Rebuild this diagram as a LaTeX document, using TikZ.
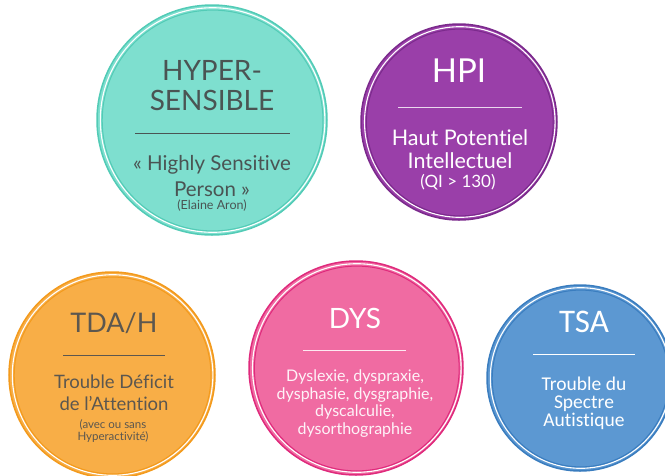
\documentclass[tikz,border=0pt]{standalone}
\usepackage{fontspec}
\setmainfont{Lato}[Ligatures=NoCommon]
\newfontfamily\calib{Carlito}[Ligatures=NoCommon]
\usetikzlibrary{calc}
\definecolor{tealF}{HTML}{7EDFCF}
\definecolor{tealR}{HTML}{52CBB6}
\definecolor{purpF}{HTML}{9A3FA9}
\definecolor{purpR}{HTML}{7B2A8C}
\definecolor{orgF}{HTML}{F8AE47}
\definecolor{orgR}{HTML}{F39A1C}
\definecolor{pinkF}{HTML}{F06BA2}
\definecolor{pinkR}{HTML}{DF2A7C}
\definecolor{bluF}{HTML}{5C98D2}
\definecolor{bluR}{HTML}{3A7DBF}
\definecolor{darktxt}{HTML}{4A5453}
\definecolor{orgtxt}{HTML}{5C574F}
\tikzset{
  disc/.style={circle, inner sep=0pt, minimum size=#1},
  lbl/.style={anchor=base, inner sep=0pt, align=center},
}
\newcommand\rimring[4]{% center, radius, rim colour, offset
  \draw[#3, line width=1.5pt] (#1) circle[radius=#2];
  \draw[white, line width=1.1pt] ($(#1)+(#4,0)$) circle[radius=#2-2.7];
  \draw[#3, line width=1pt] ($(#1)+(#4,0.5)$) circle[radius=#2-4.6];
}
\begin{document}
\begin{tikzpicture}[x=1pt,y=-1pt]
\useasboundingbox (0,0) rectangle (665,475);
% circles
\node[disc=230pt, fill=tealF] (c1) at (212,120) {};
\node[disc=196pt, fill=purpF] (c2) at (459,122) {};
\node[disc=206pt, fill=orgF] (c3) at (112,375) {};
\node[disc=214pt, fill=pinkF] (c4) at (356,368) {};
\node[disc=186pt, fill=bluF] (c5) at (580,378) {};
\rimring{c1.center}{115}{tealR}{0.6}
\rimring{c2.center}{98}{purpR}{0.8}
\rimring{c3.center}{103}{orgR}{0.6}
\rimring{c4.center}{107}{pinkR}{0.8}
\rimring{c5.center}{93}{bluR}{0.6}
% circle 1
\node[lbl, text=darktxt, font=\fontsize{28}{30}\selectfont] (t1a) at (212,80) {HYPER-};
\node[lbl, text=darktxt, font=\fontsize{28}{30}\selectfont] (t1b) at (212,110) {SENSIBLE};
\coordinate (l1a) at (135,133); \coordinate (l1b) at (290,133);
\draw[darktxt, line width=0.5pt] (l1a) -- (l1b);
\node[lbl, text=darktxt, font=\fontsize{20.5}{22}\selectfont] (s1a) at (212,170) {« Highly Sensitive};
\node[lbl, text=darktxt, font=\fontsize{20.5}{22}\selectfont] (s1b) at (212,196) {Person »};
\node[lbl, text=darktxt, font=\fontsize{12.5}{13}\selectfont] (s1c) at (212,209) {(Elaine Aron)};
% circle 2
\node[lbl, text=white, font=\fontsize{33}{33}\selectfont] (t2) at (459,82) {HPI};
\coordinate (l2a) at (398,107); \coordinate (l2b) at (522,107);
\draw[white!80!purpF, line width=0.6pt] (l2a) -- (l2b);
\node[lbl, text=white, font=\fontsize{21.5}{22}\selectfont] (s2a) at (460,145) {Haut Potentiel};
\node[lbl, text=white, font=\fontsize{21.5}{22}\selectfont] (s2b) at (460,168) {Intellectuel};
\node[lbl, text=white, font=\fontsize{17}{18}\selectfont] (s2c) at (458,187) {(QI > 130)};
% circle 3
\node[lbl, text=orgtxt, font=\fontsize{27}{28}\selectfont] (t3) at (114,332) {TDA/H};
\coordinate (l3a) at (63,355); \coordinate (l3b) at (165,355);
\draw[orgtxt, line width=0.6pt] (l3a) -- (l3b);
\node[lbl, text=orgtxt, font=\fontsize{18.5}{20}\selectfont] (s3a) at (114,388) {Trouble Déficit};
\node[lbl, text=orgtxt, font=\fontsize{18.5}{20}\selectfont] (s3b) at (114,410) {de l'Attention};
\node[lbl, text=orgtxt, font=\fontsize{11.5}{12}\selectfont] (s3c) at (113,428) {(avec ou sans};
\node[lbl, text=orgtxt, font=\fontsize{11.5}{12}\selectfont] (s3d) at (113,440) {Hyperactivité)};
% circle 4
\node[lbl, text=white, font=\fontsize{28}{28}\selectfont] (t4) at (355,328) {DYS};
\coordinate (l4a) at (303,350); \coordinate (l4b) at (406,350);
\draw[white!85!pinkF, line width=0.6pt] (l4a) -- (l4b);
\node[lbl, text=white!92!pinkF, font=\fontsize{16}{17}\selectfont] (s4a) at (355,381) {Dyslexie, dyspraxie,};
\node[lbl, text=white!92!pinkF, font=\fontsize{16}{17}\selectfont] (s4b) at (355,399) {dysphasie, dysgraphie,};
\node[lbl, text=white!92!pinkF, font=\fontsize{16}{17}\selectfont] (s4c) at (355,416) {dyscalculie,};
\node[lbl, text=white!92!pinkF, font=\fontsize{16}{17}\selectfont] (s4d) at (355,434) {dysorthographie};
% circle 5
\node[lbl, text=white, font=\calib\fontsize{33}{33}\selectfont] (t5) at (584,332) {TSA};
\coordinate (l5a) at (533,354); \coordinate (l5b) at (635,354);
\draw[white, line width=0.6pt] (l5a) -- (l5b);
\node[lbl, text=white, font=\calib\fontsize{19.5}{20}\selectfont] (s5a) at (584,390) {Trouble du};
\node[lbl, text=white, font=\calib\fontsize{19.5}{20}\selectfont] (s5b) at (584,408) {Spectre};
\node[lbl, text=white, font=\calib\fontsize{19.5}{20}\selectfont] (s5c) at (584,426) {Autistique};
\end{tikzpicture}
\end{document}
